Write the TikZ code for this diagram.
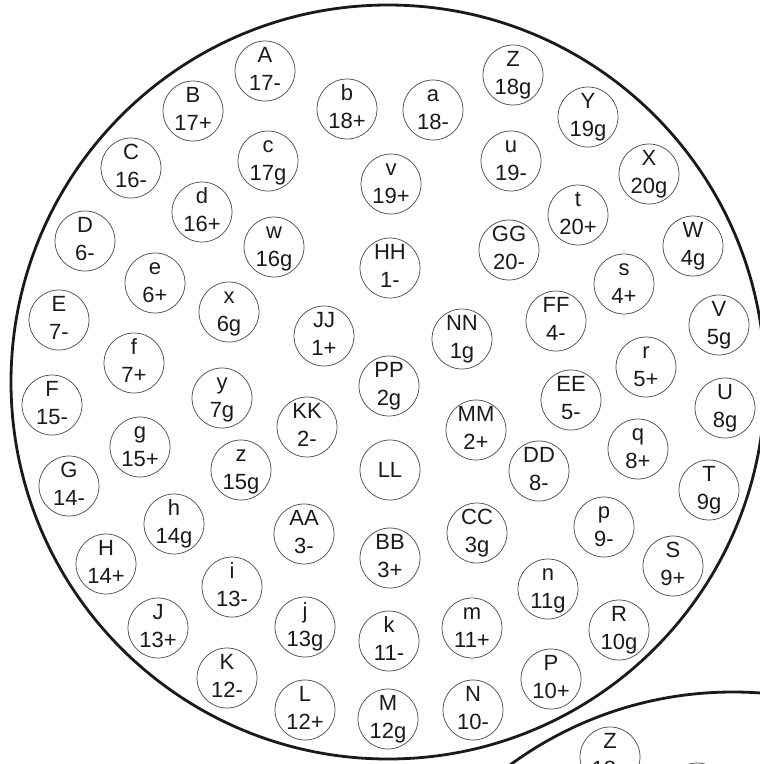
\documentclass[tikz,border=0pt]{standalone}
\usepackage{fontspec}
\setmainfont{Liberation Sans}
\definecolor{cink}{HTML}{1A1A1A}
\definecolor{cgrey}{HTML}{505050}
\tikzset{
  every picture/.style={line width=0.7pt},
  rim/.style={draw=cink, line width=2.8pt},
  ball/.style={circle, draw=cgrey, line width=0.75pt, minimum size=60pt, inner sep=0pt},
  tag/.style={align=center, inner sep=0pt, text=cink, font=\fontsize{22}{28}\selectfont},
}

\begin{document}
\begin{tikzpicture}[x=1pt, y=-1pt]
  \newcommand{\putball}[3]{\node[ball] (#1) at (#2) {}; \node[tag] (#1-lbl) at (#1) {\strut#1\\\strut#3};}
  \useasboundingbox (0,0) rectangle (760,764);
  \clip (0,0) rectangle (760,764);

  % the two rims
  \draw[rim] (388,382) circle[radius=377pt];
  \draw[rim] (733,1069) circle[radius=377pt];

  % outer ring
  \putball{A}{265,71}{17-}
  \putball{B}{193,111}{17+}
  \putball{C}{131,168}{16-}
  \putball{D}{85,241}{6-}
  \putball{E}{59,320}{7-}
  \putball{F}{52,405}{15-}
  \putball{G}{69,486}{14-}
  \putball{H}{106,564}{14+}
  \putball{J}{158,628}{13+}
  \putball{K}{227,678}{12-}
  \putball{L}{305,710}{12+}
  \putball{M}{388,719}{12g}
  \putball{N}{473,710}{10-}
  \putball{P}{551,679}{10+}
  \putball{R}{619,630}{10g}
  \putball{S}{673,566}{9+}
  \putball{T}{709,490}{9g}
  \putball{U}{725,408}{8g}
  \putball{V}{719,325}{5g}
  \putball{W}{693,246}{4g}
  \putball{X}{649,174}{20g}
  \putball{Y}{588,117}{19g}
  \putball{Z}{513,75}{18g}

  % middle ring
  \putball{a}{433,110}{18-}
  \putball{b}{347,109}{18+}
  \putball{c}{268,161}{17g}
  \putball{d}{202,212}{16+}
  \putball{e}{155,283}{6+}
  \putball{f}{134,363}{7+}
  \putball{g}{140,447}{15+}
  \putball{h}{174,524}{14g}
  \putball{i}{232,587}{13-}
  \putball{j}{305,627}{13g}
  \putball{k}{389,641}{11-}
  \putball{m}{472,628}{11+}
  \putball{n}{548,589}{11g}
  \putball{p}{604,527}{9-}
  \putball{q}{638,449}{8+}
  \putball{r}{646,367}{5+}
  \putball{s}{624,284}{4+}
  \putball{t}{578,215}{20+}
  \putball{u}{511,161}{19-}
  \putball{v}{391,184}{19+}
  \putball{w}{274,247}{16g}
  \putball{x}{229,312}{6g}
  \putball{y}{222,398}{7g}
  \putball{z}{241,470}{15g}

  % inner ring
  \putball{AA}{304,534}{3-}
  \putball{BB}{390,558}{3+}
  \putball{CC}{477,533}{3g}
  \putball{DD}{539,471}{8-}
  \putball{EE}{571,400}{5-}
  \putball{FF}{556,321}{4-}
  \putball{GG}{509,250}{20-}
  \putball{HH}{390,268}{1-}
  \putball{JJ}{324,336}{1+}
  \putball{KK}{307,427}{2-}
  \putball{MM}{476,430}{2+}
  \putball{NN}{462,339}{1g}
  \putball{PP}{389,386}{2g}
  \node[ball] (LL) at (390,470) {};
  \node[tag] (LL-lbl) at (LL) {LL};

  % second plate, cut off
  \node[ball] (Z2) at (610,757) {};
  \node[tag] (Z2-lbl) at (Z2) {\strut Z\\\strut 18g};
  \node[ball] (rest) at (697,793) {};
\end{tikzpicture}
\end{document}
